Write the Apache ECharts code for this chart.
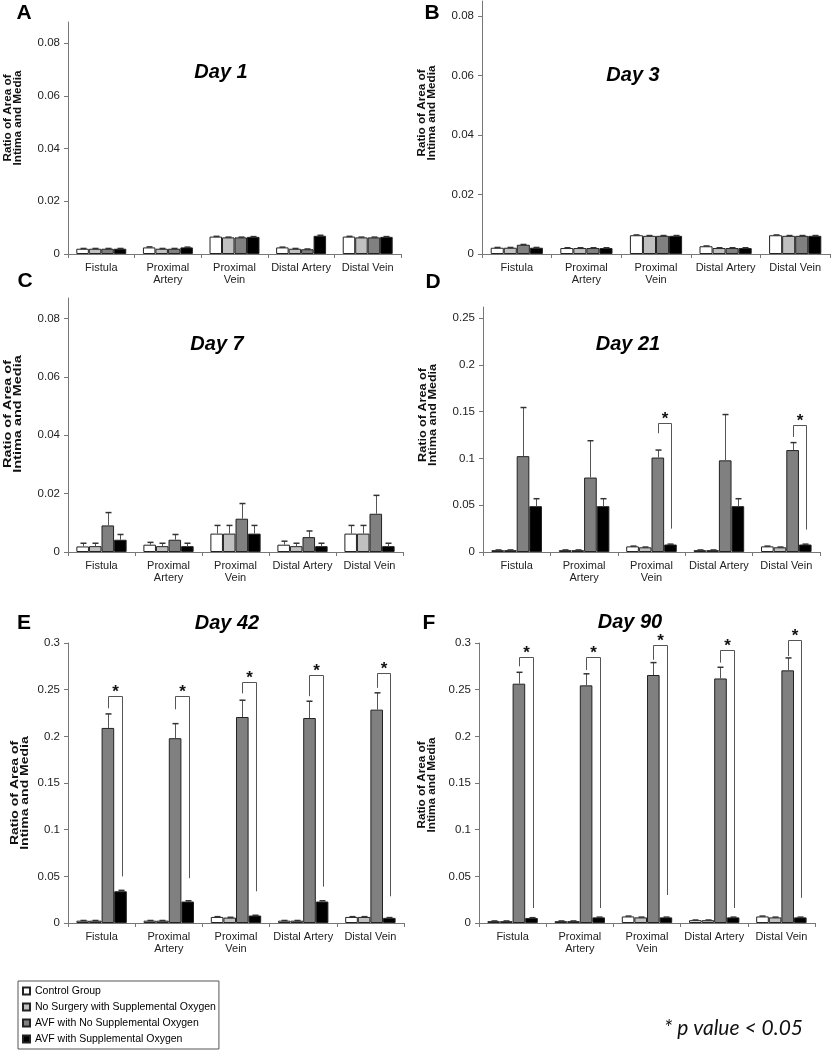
<!DOCTYPE html>
<html>
<head>
<meta charset="utf-8">
<title>Ratio of Area of Intima and Media</title>
<script src="https://cdn.jsdelivr.net/npm/echarts@6/dist/echarts.min.js"></script>
<style>
  html, body { margin: 0; padding: 0; background: #fff; }
  #chart { width: 833px; height: 1050px; }
</style>
</head>
<body>
<div id="chart"></div>
<script>
const categories = ['Fistula', 'Proximal\nArtery', 'Proximal\nVein', 'Distal Artery', 'Distal Vein'];
const groups = ['Control Group', 'No Surgery with Supplemental Oxygen', 'AVF with No Supplemental Oxygen', 'AVF with Supplemental Oxygen'];
const groupColors = ['#ffffff', '#c0c0c0', '#808080', '#000000'];

// rows follow groups, columns follow categories
const day1Means = [
  [0.0020, 0.0025, 0.0066, 0.0025, 0.0066],
  [0.0020, 0.0020, 0.0063, 0.0020, 0.0063],
  [0.0020, 0.0020, 0.0063, 0.0018, 0.0063],
  [0.0020, 0.0025, 0.0065, 0.0069, 0.0065]
];
const day1Sem = [
  [0.0001, 0.0002, 0.0001, 0.0001, 0.0001],
  [0.0001, 0.0001, 0.0001, 0.0001, 0.0001],
  [0.0001, 0.0001, 0.0001, 0.0001, 0.0001],
  [0.0001, 0.0001, 0.0001, 0.0002, 0.0001]
];
const day3Means = [
  [0.0021, 0.0020, 0.0063, 0.0026, 0.0063],
  [0.0021, 0.0020, 0.0061, 0.0020, 0.0061],
  [0.0031, 0.0020, 0.0061, 0.0020, 0.0061],
  [0.0021, 0.0020, 0.0061, 0.0020, 0.0061]
];
const day3Sem = [
  [0.0001, 0.0001, 0.0001, 0.0001, 0.0001],
  [0.0001, 0.0001, 0.0001, 0.0001, 0.0001],
  [0.0001, 0.0001, 0.0001, 0.0001, 0.0001],
  [0.0001, 0.0001, 0.0001, 0.0001, 0.0001]
];
const day7Means = [
  [0.0019, 0.0025, 0.0063, 0.0025, 0.0063],
  [0.0020, 0.0020, 0.0063, 0.0020, 0.0063],
  [0.0091, 0.0042, 0.0114, 0.0051, 0.0131],
  [0.0042, 0.0020, 0.0063, 0.0020, 0.0020]
];
const day7Sem = [
  [0.0011, 0.0008, 0.0028, 0.0012, 0.0028],
  [0.0010, 0.0010, 0.0028, 0.0010, 0.0028],
  [0.0044, 0.0018, 0.0052, 0.0021, 0.0063],
  [0.0018, 0.0010, 0.0028, 0.0010, 0.0010]
];
const day21Means = [
  [0.0020, 0.0020, 0.0060, 0.0020, 0.0060],
  [0.0020, 0.0020, 0.0050, 0.0020, 0.0050],
  [0.1025, 0.0796, 0.1010, 0.0980, 0.1090],
  [0.0490, 0.0490, 0.0080, 0.0490, 0.0080]
];
const day21Sem = [
  [0.0002, 0.0002, 0.0003, 0.0002, 0.0003],
  [0.0002, 0.0002, 0.0003, 0.0002, 0.0003],
  [0.0520, 0.0394, 0.0080, 0.0490, 0.0080],
  [0.0080, 0.0080, 0.0004, 0.0080, 0.0004]
];
const day42Means = [
  [0.0025, 0.0025, 0.0065, 0.0025, 0.0065],
  [0.0025, 0.0025, 0.0058, 0.0025, 0.0065],
  [0.2090, 0.1980, 0.2207, 0.2196, 0.2286],
  [0.0340, 0.0230, 0.0080, 0.0230, 0.0055]
];
const day42Sem = [
  [0.0002, 0.0002, 0.0003, 0.0002, 0.0003],
  [0.0002, 0.0002, 0.0003, 0.0002, 0.0003],
  [0.0150, 0.0156, 0.0180, 0.0180, 0.0180],
  [0.0010, 0.0008, 0.0003, 0.0008, 0.0003]
];
const day90Means = [
  [0.0020, 0.0020, 0.0070, 0.0030, 0.0070],
  [0.0020, 0.0020, 0.0060, 0.0030, 0.0060],
  [0.2564, 0.2546, 0.2657, 0.2620, 0.2707],
  [0.0054, 0.0060, 0.0060, 0.0060, 0.0060]
];
const day90Sem = [
  [0.0002, 0.0002, 0.0004, 0.0002, 0.0004],
  [0.0002, 0.0002, 0.0003, 0.0002, 0.0003],
  [0.0122, 0.0124, 0.0133, 0.0120, 0.0133],
  [0.0003, 0.0003, 0.0003, 0.0003, 0.0003]
];

// significance brackets: [category, left foot, bracket top, right foot]
const day21Sig = [[2, 0.127, 0.1375, 0.025], [4, 0.123, 0.1357, 0.024]];
const day42Sig = [[0, 0.230, 0.2436, 0.050], [1, 0.229, 0.243, 0.048], [2, 0.246, 0.258, 0.034], [3, 0.243, 0.266, 0.039], [4, 0.252, 0.268, 0.0286]];
const day90Sig = [[0, 0.275, 0.285, 0.016], [1, 0.271, 0.285, 0.016], [2, 0.282, 0.298, 0.030], [3, 0.279, 0.293, 0.016], [4, 0.286, 0.303, 0.027]];

const ticksLow = [0, 0.02, 0.04, 0.06, 0.08];
const ticksMid = [0, 0.05, 0.1, 0.15, 0.2, 0.25];
const ticksHigh = [0, 0.05, 0.1, 0.15, 0.2, 0.25, 0.3];

const FONT = '"Liberation Sans", Arial, sans-serif';
const yName = 'Ratio of Area of\nIntima and Media';

const panels = [
  { means: day1Means, sem: day1Sem, sig: [], ticks: ticksLow, max: 0.088,
    grid: { left: 68, top: 22, width: 333, height: 232 },
    letter: 'A', letterAt: [24, 13], title: 'Day 1', titleAt: [221, 72], nameAt: [13, 118], nameScale: 1.17 },
  { means: day3Means, sem: day3Sem, sig: [], ticks: ticksLow, max: 0.085,
    grid: { left: 482, top: 1, width: 348, height: 253 },
    letter: 'B', letterAt: [432, 13], title: 'Day 3', titleAt: [633, 75], nameAt: [427, 113], nameScale: 1.17 },
  { means: day7Means, sem: day7Sem, sig: [], ticks: ticksLow, max: 0.087,
    grid: { left: 68, top: 298, width: 335, height: 254 },
    letter: 'C', letterAt: [25, 281], title: 'Day 7', titleAt: [217, 344], nameAt: [13, 414], nameScale: 1.45 },
  { means: day21Means, sem: day21Sem, sig: day21Sig, ticks: ticksMid, max: 0.262,
    grid: { left: 483, top: 307, width: 337, height: 245 },
    letter: 'D', letterAt: [433, 282], title: 'Day 21', titleAt: [628, 344], nameAt: [428, 415], nameScale: 1.26 },
  { means: day42Means, sem: day42Sem, sig: day42Sig, ticks: ticksHigh, max: 0.3,
    grid: { left: 68, top: 643, width: 336, height: 280 },
    letter: 'E', letterAt: [24, 623], title: 'Day 42', titleAt: [227, 623], nameAt: [20, 793], nameScale: 1.4 },
  { means: day90Means, sem: day90Sem, sig: day90Sig, ticks: ticksHigh, max: 0.3,
    grid: { left: 479, top: 643, width: 336, height: 280 },
    letter: 'F', letterAt: [429, 623], title: 'Day 90', titleAt: [630, 622], nameAt: [427, 785], nameScale: 1.17 }
];

function barX(api, cat, s) {
  const band = api.size([1, 0])[0];
  const bw = band * 0.75 / 4;
  const c = api.coord([cat, 0])[0];
  return c - band * 0.375 + bw * (s + 0.5);
}

function renderError(params, api) {
  const cat = api.value(0), s = api.value(1);
  const x = Math.round(barX(api, cat, s)) + 0.5;
  const y0 = api.coord([cat, api.value(2)])[1];
  const y1 = api.coord([cat, api.value(3)])[1];
  return {
    type: 'group',
    children: [
      { type: 'line', shape: { x1: x, y1: y0, x2: x, y2: y1 }, style: { stroke: '#555', lineWidth: 1 } },
      { type: 'line', shape: { x1: x - 3, y1: y1, x2: x + 3, y2: y1 }, style: { stroke: '#333', lineWidth: 1.5 } }
    ]
  };
}

function renderBracket(params, api) {
  const cat = api.value(0);
  const xl = Math.round(barX(api, cat, 2)) + 0.5;
  const xr = Math.round(barX(api, cat, 3)) + 1.5;
  const yl = api.coord([cat, api.value(1)])[1];
  const yt = Math.round(api.coord([cat, api.value(2)])[1]) + 0.5;
  const yr = api.coord([cat, api.value(3)])[1];
  return {
    type: 'group',
    children: [
      { type: 'polyline', shape: { points: [[xl, yl], [xl, yt], [xr, yt], [xr, yr]] },
        style: { stroke: '#555', lineWidth: 1, fill: null } },
      { type: 'text', x: (xl + xr) / 2, y: yt - 4,
        style: { text: '*', fontSize: 17, fontWeight: 'bold', fontFamily: FONT, fill: '#111', align: 'center', verticalAlign: 'middle' } }
    ]
  };
}

const grid = [], xAxis = [], yAxis = [], series = [], graphic = [];

panels.forEach(function (p, g) {
  grid.push(p.grid);
  xAxis.push({
    type: 'category', gridIndex: g, data: categories,
    axisLine: { lineStyle: { color: '#777', width: 1 } },
    axisTick: { show: true, length: 4, lineStyle: { color: '#777' } },
    axisLabel: { interval: 0, fontSize: 11, color: '#222', fontFamily: FONT, margin: 8, lineHeight: 12 }
  });
  yAxis.push({
    type: 'value', gridIndex: g, min: 0, max: p.max,
    splitLine: { show: false },
    axisLine: { show: true, lineStyle: { color: '#777', width: 1 } },
    axisTick: { show: true, length: 4, customValues: p.ticks, lineStyle: { color: '#777' } },
    axisLabel: { customValues: p.ticks, formatter: function (v) { return String(v); },
      fontSize: 11.5, color: '#222', fontFamily: FONT, margin: 8 }
  });

  groups.forEach(function (name, s) {
    series.push({
      type: 'bar', name: name, xAxisIndex: g, yAxisIndex: g,
      data: p.means[s], barGap: '0%', barCategoryGap: '25%',
      itemStyle: { color: groupColors[s], borderColor: '#222', borderWidth: 1 },
      silent: true, z: 2
    });
  });

  const errData = [];
  p.means.forEach(function (row, s) {
    row.forEach(function (m, i) {
      errData.push([i, s, m, m + p.sem[s][i]]);
    });
  });
  series.push({
    type: 'custom', xAxisIndex: g, yAxisIndex: g, renderItem: renderError,
    data: errData, encode: { x: 0, y: 3 }, silent: true, z: 3
  });

  if (p.sig.length) {
    series.push({
      type: 'custom', xAxisIndex: g, yAxisIndex: g, renderItem: renderBracket,
      data: p.sig, encode: { x: 0, y: 2 }, silent: true, clip: false, z: 4
    });
  }

  graphic.push({
    type: 'text', x: p.letterAt[0], y: p.letterAt[1],
    style: { text: p.letter, fontSize: 21, fontWeight: 'bold', fontFamily: FONT, fill: '#000', align: 'center', verticalAlign: 'middle' }
  });
  graphic.push({
    type: 'text', x: p.titleAt[0], y: p.titleAt[1],
    style: { text: p.title, fontSize: 20, fontWeight: 'bold', fontStyle: 'italic', fontFamily: FONT, fill: '#000', align: 'center', verticalAlign: 'middle' }
  });
  graphic.push({
    type: 'text', x: p.nameAt[0], y: p.nameAt[1], rotation: Math.PI / 2, scaleX: p.nameScale,
    style: { text: yName, fontSize: 10, fontWeight: 'bold', fontFamily: FONT, fill: '#111', align: 'center', verticalAlign: 'middle', lineHeight: 10 }
  });
});

graphic.push({
  type: 'text', x: 664, y: 1028,
  style: { text: '* p value < 0.05', fontSize: 21, fontStyle: 'italic', fontFamily: 'Lato, "Open Sans", sans-serif', fill: '#111', align: 'left', verticalAlign: 'middle' }
});

const chart = echarts.init(document.getElementById('chart'), null, { renderer: 'canvas' });
chart.setOption({
  animation: false,
  backgroundColor: '#fff',
  grid: grid,
  xAxis: xAxis,
  yAxis: yAxis,
  legend: {
    data: groups, orient: 'vertical', left: 18, top: 981,
    itemWidth: 7, itemHeight: 7, itemGap: 4, icon: 'rect', selectedMode: false,
    padding: [4, 3, 4, 4], borderColor: '#555', borderWidth: 1,
    textStyle: { fontSize: 10.5, color: '#000', fontFamily: FONT, lineHeight: 12 }
  },
  series: series,
  graphic: graphic
});
</script>
</body>
</html>
